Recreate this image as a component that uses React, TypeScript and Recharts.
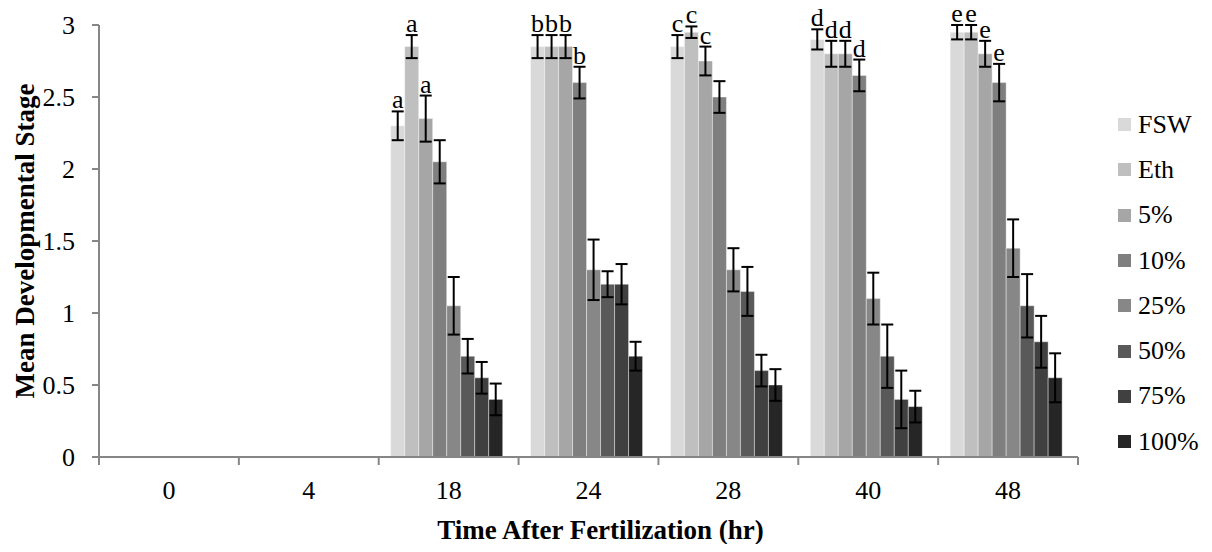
import React from "react";
import {
  BarChart,
  Bar,
  XAxis,
  YAxis,
  ErrorBar,
  LabelList,
  Legend,
} from "recharts";

const FONT = "'Liberation Serif', 'Times New Roman', serif";

const times = ["0", "4", "18", "24", "28", "40", "48"];

const seriesNames = ["FSW", "Eth", "5%", "10%", "25%", "50%", "75%", "100%"];
const seriesColors = [
  "#d9d9d9",
  "#bfbfbf",
  "#a6a6a6",
  "#7f7f7f",
  "#878787",
  "#595959",
  "#404040",
  "#262626",
];

// mean developmental stage per treatment (no data at 0 and 4 hr)
const fsw = [null, null, 2.3, 2.85, 2.85, 2.9, 2.95];
const eth = [null, null, 2.85, 2.85, 2.95, 2.8, 2.95];
const pct5 = [null, null, 2.35, 2.85, 2.75, 2.8, 2.8];
const pct10 = [null, null, 2.05, 2.6, 2.5, 2.65, 2.6];
const pct25 = [null, null, 1.05, 1.3, 1.3, 1.1, 1.45];
const pct50 = [null, null, 0.7, 1.2, 1.15, 0.7, 1.05];
const pct75 = [null, null, 0.55, 1.2, 0.6, 0.4, 0.8];
const pct100 = [null, null, 0.4, 0.7, 0.5, 0.35, 0.55];

// standard error
const fswErr = [null, null, 0.1, 0.08, 0.08, 0.07, 0.05];
const ethErr = [null, null, 0.08, 0.08, 0.04, 0.09, 0.05];
const pct5Err = [null, null, 0.16, 0.08, 0.1, 0.09, 0.09];
const pct10Err = [null, null, 0.15, 0.11, 0.11, 0.11, 0.13];
const pct25Err = [null, null, 0.2, 0.21, 0.15, 0.18, 0.2];
const pct50Err = [null, null, 0.12, 0.09, 0.17, 0.22, 0.22];
const pct75Err = [null, null, 0.11, 0.14, 0.11, 0.2, 0.18];
const pct100Err = [null, null, 0.11, 0.1, 0.11, 0.11, 0.17];

// significance letters
const fswLetters = ["", "", "a", "b", "c", "d", "e"];
const ethLetters = ["", "", "a", "b", "c", "d", "e"];
const pct5Letters = ["", "", "a", "b", "c", "d", "e"];
const pct10Letters = ["", "", "", "b", "", "d", "e"];
const noLetters = ["", "", "", "", "", "", ""];

const yTicks = [0, 0.5, 1, 1.5, 2, 2.5, 3];

const values = [fsw, eth, pct5, pct10, pct25, pct50, pct75, pct100];
const errors = [fswErr, ethErr, pct5Err, pct10Err, pct25Err, pct50Err, pct75Err, pct100Err];
const letters = [fswLetters, ethLetters, pct5Letters, pct10Letters, noLetters, noLetters, noLetters, noLetters];

const data = times.map((t, i) => {
  const row: Record<string, any> = { time: t };
  seriesNames.forEach((name, s) => {
    row[name] = values[s][i];
    row[name + "_err"] = errors[s][i];
    row[name + "_lbl"] = letters[s][i];
  });
  return row;
});

const AXIS_GRAY = "#868686";
const TICK_SIZE = 26;

function TimeTick(props: any) {
  const { x, y, payload, index, visibleTicksCount } = props;
  const half = payload && payload.offset ? payload.offset : 70;
  const last = index === visibleTicksCount - 1;
  return (
    <g>
      <line x1={x - half} y1={y} x2={x - half} y2={y + 8} stroke={AXIS_GRAY} strokeWidth={2} />
      {last && (
        <line x1={x + half} y1={y} x2={x + half} y2={y + 8} stroke={AXIS_GRAY} strokeWidth={2} />
      )}
      <text x={x} y={y + 33} dy="0.355em" textAnchor="middle" fontSize={TICK_SIZE} fontFamily={FONT} fill="#000">
        {payload.value}
      </text>
    </g>
  );
}

// labels skip the empty categories, so map label index back to the data row
function makeLetterLabel(s: number) {
  const rows = values[s].map((v, i) => (v == null ? -1 : i)).filter((i) => i >= 0);
  return (props: any) => {
    const { x, y, width, height, index, value } = props;
    const i = rows[index];
    if (i == null) return null;
    const v = values[s][i];
    const e = errors[s][i];
    if (!value || v == null || e == null || !height) return null;
    const perUnit = height / v;
    const top = y - e * perUnit;
    return (
      <text x={x + width / 2} y={top - 3} textAnchor="middle" fontSize={TICK_SIZE} fontFamily={FONT} fill="#000">
        {value}
      </text>
    );
  };
}

function renderLegend() {
  return (
    <div style={{ width: 126, fontFamily: FONT, fontSize: TICK_SIZE, color: "#000" }}>
      {seriesNames.map((name, s) => (
        <div key={name} style={{ height: 45.3, display: "flex", alignItems: "center", paddingLeft: 40 }}>
          <span style={{ display: "inline-block", width: 13, height: 13, background: seriesColors[s], marginRight: 7 }} />
          <span style={{ lineHeight: "26px" }}>{name}</span>
        </div>
      ))}
    </div>
  );
}

export default function App() {
  return (
    <div style={{ width: 1196, height: 536, fontFamily: FONT, background: "#fff" }}>
      <BarChart
        width={1196}
        height={536}
        data={data}
        margin={{ top: 17, right: 0, bottom: 0, left: 0 }}
        barCategoryGap={12}
        barGap={0}
      >
        <XAxis
          dataKey="time"
          height={87}
          axisLine={{ stroke: AXIS_GRAY, strokeWidth: 2 }}
          tickLine={false}
          tickSize={0}
          tickMargin={0}
          interval={0}
          tick={<TimeTick />}
          label={{
            value: "Time After Fertilization (hr)",
            position: "insideBottom",
            offset: 5,
            dx: 12,
            style: { fontFamily: FONT, fontSize: 27, fontWeight: "bold", fill: "#000" },
          }}
        />
        <YAxis
          width={91}
          domain={[0, 3]}
          ticks={yTicks}
          interval={0}
          axisLine={{ stroke: AXIS_GRAY, strokeWidth: 2 }}
          tickLine={{ stroke: AXIS_GRAY, strokeWidth: 2 }}
          tickSize={7}
          tickMargin={17}
          tick={{ fill: "#000", fontSize: TICK_SIZE, fontFamily: FONT }}
          label={{
            value: "Mean Developmental Stage",
            angle: -90,
            position: "insideLeft",
            offset: 16,
            style: { fontFamily: FONT, fontSize: 27, fontWeight: "bold", fill: "#000", textAnchor: "middle" },
          }}
        />
        <Legend
          layout="vertical"
          align="right"
          verticalAlign="top"
          content={renderLegend}
          wrapperStyle={{ top: 94, right: 0 }}
        />
        {seriesNames.map((name, s) => (
          <Bar
            key={name}
            dataKey={name}
            name={name}
            fill={seriesColors[s]}
            stroke="#ffffff"
            strokeOpacity={0.5}
            strokeWidth={0.8}
            isAnimationActive={false}
          >
            <ErrorBar dataKey={name + "_err"} width={6} stroke="#000" strokeWidth={2} isAnimationActive={false} />
            <LabelList dataKey={name + "_lbl"} content={makeLetterLabel(s)} />
          </Bar>
        ))}
      </BarChart>
    </div>
  );
}
